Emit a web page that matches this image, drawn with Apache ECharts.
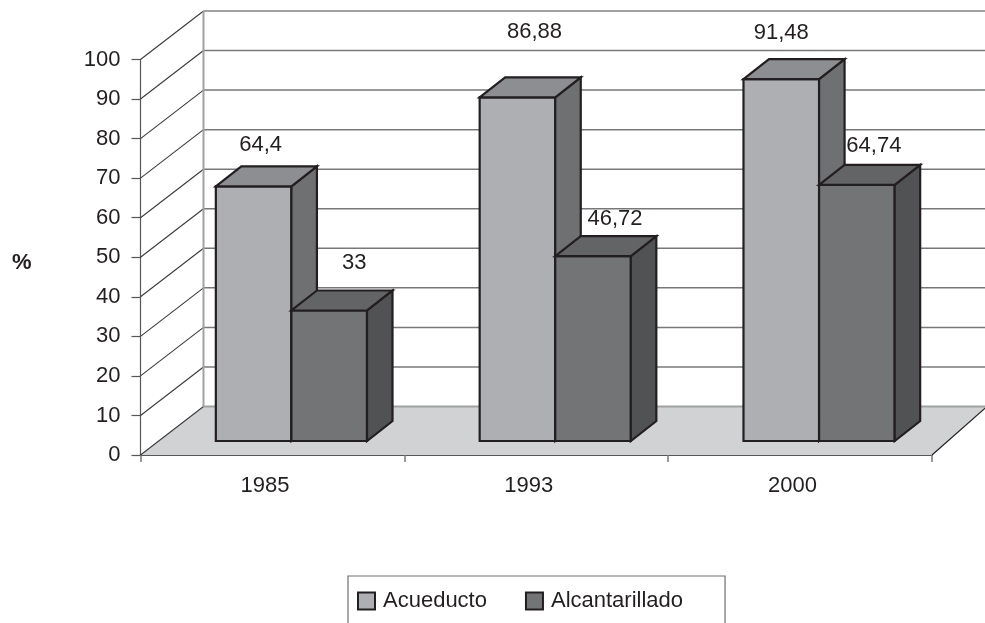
<!DOCTYPE html>
<html>
<head>
<meta charset="utf-8">
<style>html,body{margin:0;padding:0;background:#fff}#c{width:985px;height:623px}</style>
<script src="https://cdn.jsdelivr.net/npm/echarts@6/dist/echarts.min.js"></script>
</head>
<body>
<div id="c"></div>
<script>
const categories = ['1985', '1993', '2000'];
const acueducto = [64.4, 86.88, 91.48];
const alcantarillado = [33, 46.72, 64.74];
const yTicks = [0, 10, 20, 30, 40, 50, 60, 70, 80, 90, 100];

// label placement, offset from the front-top centre of each bar
const labelNudgeA = [[7, -41], [17, -65], [0, -46]];
const labelNudgeB = [[25, -48], [22, -37], [17, -39]];

const FONT = '"Liberation Sans",Arial,sans-serif';
const INK = '#231f20';
const WALL_DX = 63, WALL_DY = -48.5;
const BAR_DX = 25.5, BAR_DY = -20;
const BASE_LIFT = 14, BASE_SHIFT = 19, BAR_RATIO = 0.2865;

function poly(points, fill) {
  return { type: 'polygon', shape: { points },
    style: { fill, stroke: INK, lineWidth: 2.2, lineJoin: 'miter' } };
}

function barRenderer(side, cols, nudges) {
  return function (params, api) {
    const idx = api.value(0), val = api.value(1);
    const c = api.coord([idx, val]);
    const band = api.size([1, 0])[0];
    const w = band * BAR_RATIO;
    const xMid = c[0] + BASE_SHIFT;
    const x0 = side === 0 ? xMid - w : xMid;
    const x1 = x0 + w;
    const yt = c[1] - BASE_LIFT;
    const yb = api.coord([idx, 0])[1] - BASE_LIFT;
    const n = nudges[idx];
    return { type: 'group', children: [
      poly([[x0, yt], [x1, yt], [x1, yb], [x0, yb]], cols[0]),
      poly([[x1, yt], [x1 + BAR_DX, yt + BAR_DY], [x1 + BAR_DX, yb + BAR_DY], [x1, yb]], cols[2]),
      poly([[x0, yt], [x0 + BAR_DX, yt + BAR_DY], [x1 + BAR_DX, yt + BAR_DY], [x1, yt]], cols[1]),
      { type: 'text', z2: 5, style: {
          x: (x0 + x1) / 2 + n[0], y: yt + n[1],
          text: String(val).replace('.', ','),
          align: 'center', verticalAlign: 'middle',
          fill: INK, font: '22px ' + FONT } }
    ] };
  };
}

function wallRenderer(params, api) {
  const g = params.coordSys;
  const v = api.value(0);
  const y = api.coord([0, v])[1];
  const x = g.x;
  const right = g.x + g.width;
  const kids = [];
  if (v === 0) {
    kids.push({ type: 'polygon', shape: { points: [
        [x, y], [right, y], [right + 55, y + WALL_DY], [x + WALL_DX, y + WALL_DY]] },
      style: { fill: '#d1d2d4', stroke: 'none' } });
    kids.push({ type: 'line', shape: { x1: right, y1: y, x2: right + 55, y2: y + WALL_DY },
      style: { stroke: INK, lineWidth: 1.2 } });
  }
  kids.push({ type: 'polyline', shape: { points: [[x + WALL_DX, y + WALL_DY], [right + 70, y + WALL_DY]] },
    style: { stroke: (v === 0 || v === 100) ? '#a0a1a3' : '#77787a', lineWidth: (v === 0 || v === 100) ? 2 : 1.5, fill: 'none' } });
  kids.push({ type: 'line', shape: { x1: x, y1: y, x2: x + WALL_DX, y2: y + WALL_DY },
    style: { stroke: '#3a3a3c', lineWidth: 1.1 } });
  if (v === 100) {
    const y0 = api.coord([0, 0])[1];
    kids.push({ type: 'line', shape: { x1: x + WALL_DX, y1: y + WALL_DY, x2: x + WALL_DX, y2: y0 + WALL_DY },
      style: { stroke: '#a0a1a3', lineWidth: 2 } });
  }
  return { type: 'group', children: kids };
}

const chart = echarts.init(document.getElementById('c'), null, { renderer: 'canvas' });
chart.setOption({
  animation: false,
  backgroundColor: '#ffffff',
  textStyle: { fontFamily: FONT, color: INK },
  grid: { left: 140.5, right: 53, top: 59.5, bottom: 168 },
  xAxis: {
    type: 'category', data: categories,
    axisLine: { lineStyle: { color: INK, width: 1.5 } },
    axisTick: { show: true, length: 7, lineStyle: { color: '#77787a', width: 1.5 } },
    axisLabel: { fontSize: 22, color: INK, fontFamily: FONT, margin: 20, padding: [0, 15, 0, 0] }
  },
  yAxis: {
    type: 'value', min: 0, max: 100, interval: 10,
    name: '%', nameLocation: 'middle', nameRotate: 0, nameGap: 109,
    nameTextStyle: { fontSize: 22, fontWeight: 'bold', color: INK, fontFamily: FONT, verticalAlign: 'top', lineHeight: 12 },
    axisLine: { show: true, lineStyle: { color: '#555658', width: 1.2 } },
    axisTick: { show: true, length: 9, lineStyle: { color: '#555658', width: 1.2 } },
    axisLabel: { fontSize: 22, color: INK, fontFamily: FONT, margin: 20, padding: [2, 0, 0, 0] },
    splitLine: { show: false }
  },
  legend: {
    left: 348, top: 576, orient: 'horizontal',
    padding: [14, 42, 40, 9],
    borderColor: '#6d6e70', borderWidth: 1.2, backgroundColor: '#fff',
    itemWidth: 17, itemHeight: 17, itemGap: 38, icon: 'rect',
    textStyle: { fontSize: 22, color: INK, fontFamily: FONT, padding: [0, 0, 0, 3] },
    data: [
      { name: 'Acueducto', itemStyle: { color: '#aeafb3', borderColor: INK, borderWidth: 2 } },
      { name: 'Alcantarillado', itemStyle: { color: '#737476', borderColor: INK, borderWidth: 2 } }
    ]
  },
  series: [
    { type: 'custom', name: 'wall', z: 1, silent: true, clip: false,
      coordinateSystem: 'cartesian2d', encode: { y: 0 },
      data: yTicks.map(v => [v]), renderItem: wallRenderer },
    { type: 'custom', name: 'Acueducto', z: 2, clip: false,
      itemStyle: { color: '#aeafb3' }, encode: { x: 0, y: 1 },
      data: acueducto.map((v, i) => [i, v]),
      renderItem: barRenderer(0, ['#aeafb3', '#8d8e91', '#6f7072'], labelNudgeA) },
    { type: 'custom', name: 'Alcantarillado', z: 3, clip: false,
      itemStyle: { color: '#737476' }, encode: { x: 0, y: 1 },
      data: alcantarillado.map((v, i) => [i, v]),
      renderItem: barRenderer(1, ['#737476', '#636466', '#515254'], labelNudgeB) }
  ]
});
</script>
</body>
</html>
